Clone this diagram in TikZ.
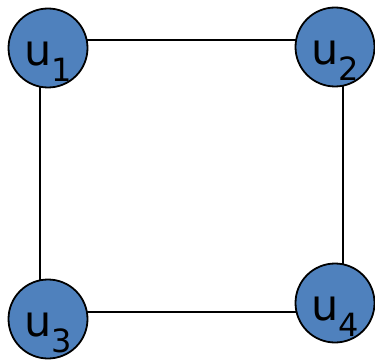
\documentclass[tikz,border=0pt]{standalone}
\usepackage{fontspec}
\newfontfamily\labfont{DejaVu Sans}
\usetikzlibrary{backgrounds}
\definecolor{nodeblue}{HTML}{4F81BD}
\newcommand{\ulab}[1]{{\labfont\fontsize{43}{43}\selectfont u\raisebox{-16pt}{\fontsize{32}{32}\selectfont #1}}}
\tikzset{
  vert/.style={circle, draw=black, line width=1.8pt, fill=nodeblue, minimum size=79pt, inner sep=0pt, text height=35pt, text depth=0pt},
  edge/.style={draw=black, line width=2pt}
}
\begin{document}
\begin{tikzpicture}[x=1pt,y=-1pt]
\useasboundingbox (0,0) rectangle (375,361);
\node[vert] (u1) at (48,48) {\ulab{1}};
\node[vert] (u2) at (335,47) {\ulab{2}};
\node[vert] (u3) at (48,319) {\ulab{3}};
\node[vert] (u4) at (335,303) {\ulab{4}};
\begin{scope}[on background layer]
\draw[edge] ([yshift=8pt]u1.center) -- ([yshift=7pt]u2.center);
\draw[edge] ([xshift=-8pt]u1.center) -- ([xshift=-8pt]u3.center);
\draw[edge] ([xshift=8pt]u2.center) -- ([xshift=8pt]u4.center);
\draw[edge] ([yshift=7pt]u3.center) -- ([yshift=-9pt]u4.center);
\end{scope}
\end{tikzpicture}
\end{document}
